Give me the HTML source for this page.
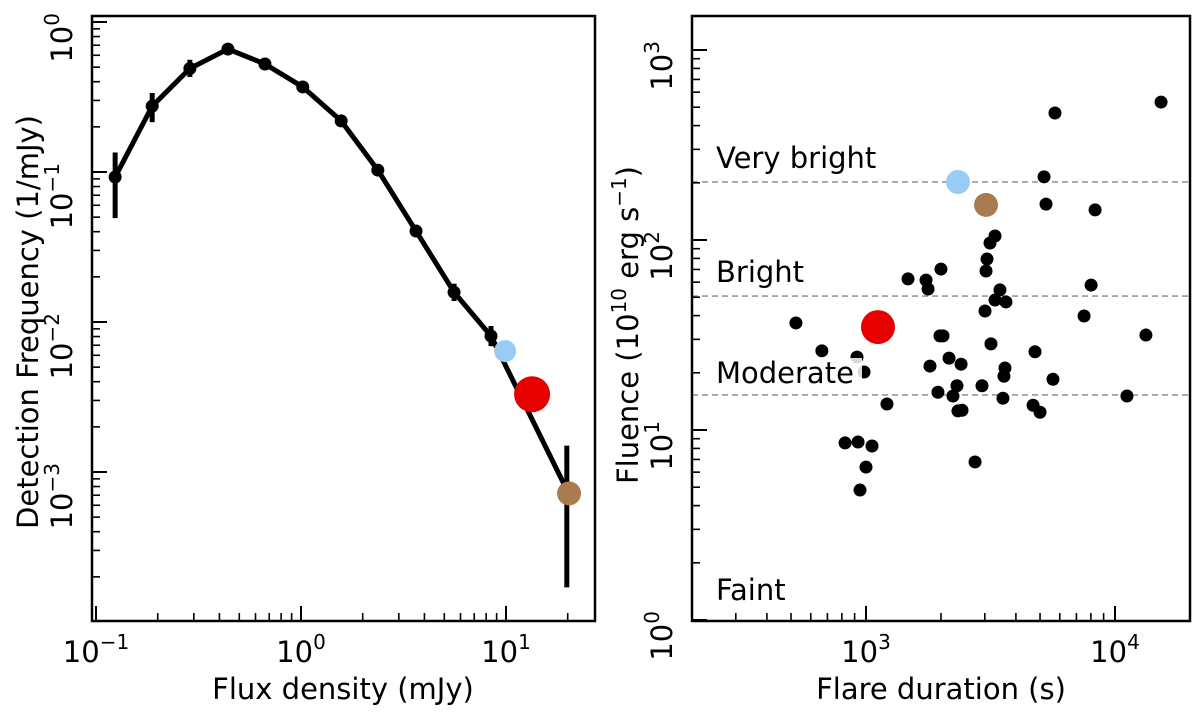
<!DOCTYPE html>
<html><head><meta charset="utf-8"><style>
body{margin:0;background:#fff}
svg{display:block;font-family:"DejaVu Sans","Liberation Sans",sans-serif}
</style></head><body>
<svg id="c" width="1200" height="713" viewBox="0 0 1200 713"></svg>
<script>
// Left panel data
const fluxBins=[0.124,0.188,0.287,0.44,0.667,1.02,1.57,2.37,3.64,5.58,8.45,19.8];
const detFreq=[0.0926,0.275,0.49,0.66,0.525,0.369,0.219,0.103,0.0404,0.0158,0.00807,0.00076];
const errLo=[0.0493,0.215,0.43,0.63,0.50,0.355,0.21,0.099,0.037,0.0138,0.0069,0.00017];
const errHi=[0.135,0.336,0.56,0.69,0.55,0.383,0.228,0.107,0.044,0.018,0.0094,0.0015];
const leftHighlightX=[9.9,13.4,20.3];
const leftHighlightY=[0.0064,0.0033,0.00072];
const highlightColors=["#99ccf5","#e60000","#a97c50"];
const highlightR=[11,18,12];
// Right panel data
const durations=[523,665,920,982,929,824,1057,1000,946,1214,1475,1742,1775,2000,1807,1945,2155,1982,2319,2409,2235,2340,2430,2038,2741,3006,3062,3034,3297,3148,3176,2923,3548,3451,3615,3581,5284,5188,3648,5741,4773,4688,5000,5636,7513,8017,8318,11170,13310,15310,3297];
const fluences=[36.6,26.1,24.2,20.2,8.65,8.55,8.24,6.38,4.83,13.7,62.4,61.5,55.2,70.3,21.7,15.8,23.9,31.3,17.1,22.2,15.1,12.6,12.7,31.3,6.79,42.3,79.4,68.7,48.3,96.4,28.4,17.1,14.7,54.6,21.2,19.2,154.5,215,47.2,466,25.8,13.5,12.4,18.5,39.8,57.9,144,15.1,31.6,532,105];
const rightHighlightX=[2340,3034,1117];
const rightHighlightY=[202,153,34.8];
const rightHighlightColors=["#99ccf5","#a97c50","#e60000"];
const rightHighlightR=[12,12,17];
const thresholds=[202,50.7,15.3];
const thresholdLabels=["Very bright","Bright","Moderate","Faint"];

const svg=document.getElementById('c');
const NS="http://www.w3.org/2000/svg";
const FS=29, SFS=20;
function el(tag,attrs,parent){const e=document.createElementNS(NS,tag);for(const k in attrs)e.setAttribute(k,attrs[k]);(parent||svg).appendChild(e);return e;}
function logScale(d0,d1,r0,r1){return v=>r0+(Math.log10(v)-d0)/(d1-d0)*(r1-r0);}

const L={x0:92,x1:595,y0:16,y1:621};
const lx=logScale(-1,0,96,301), ly=logScale(0,-1,22,172);
const R={x0:692,x1:1190,y0:16,y1:621};
const rx=logScale(3,4,866,1115), ry=logScale(3,2,50,240);

function sup(parent,x,y,base,exp,rot){
  let t;
  if(rot){
    const yy=y-9;
    t=el('text',{x:x,y:yy,'font-size':FS,'text-anchor':'end',fill:'#000',transform:`rotate(-90 ${x} ${yy})`},parent);
  } else {
    t=el('text',{x:x,y:y,'font-size':FS,'text-anchor':'middle',fill:'#000'},parent);
  }
  const a=el('tspan',{},t);a.textContent=base;
  const b=el('tspan',{dy:-13,'font-size':SFS},t);b.textContent=exp;
  return t;
}
function ticks(ax,xs,ys,xdec,ydec,g){
  for(let d=xdec[0];d<=xdec[1];d++){for(let m=1;m<10;m++){const v=m*Math.pow(10,d);const p=xs(v);if(p<ax.x0+1||p>ax.x1-1)continue;
    const len=m===1?15:8;const t=el('line',{x1:p,x2:p,y1:ax.y1,y2:ax.y1-len,stroke:'#000','stroke-width':m===1?2:1.6},g);
    }}
  for(let d=ydec[0];d<=ydec[1];d++){for(let m=1;m<10;m++){const v=m*Math.pow(10,d);const p=ys(v);if(p<ax.y0+1||p>ax.y1-1)continue;
    const len=m===1?15:8;const t=el('line',{x1:ax.x0,x2:ax.x0+len,y1:p,y2:p,stroke:'#000','stroke-width':m===1?2:1.6},g);
    }}
}

// ---- Left panel ----
const gl=el('g',{});

let pts=fluxBins.map((v,i)=>[lx(v),ly(detFreq[i])]);
const line=el('polyline',{points:pts.map(p=>p.join(',')).join(' '),fill:'none',stroke:'#000','stroke-width':5,'stroke-linejoin':'round'},gl);

fluxBins.forEach((v,i)=>{
  const e=el('line',{x1:lx(v),x2:lx(v),y1:ly(errLo[i]),y2:ly(errHi[i]),stroke:'#000','stroke-width':5},gl);
  
  const c=el('circle',{cx:lx(v),cy:ly(detFreq[i]),r:6.5,fill:'#000'},gl);
  
});
leftHighlightX.forEach((v,i)=>{
  const c=el('circle',{cx:lx(v),cy:ly(leftHighlightY[i]),r:highlightR[i],fill:highlightColors[i]},gl);
  
});
ticks(L,lx,ly,[-1,1],[-4,0],gl);
const fl=el('rect',{x:L.x0,y:L.y0,width:L.x1-L.x0,height:L.y1-L.y0,fill:'none',stroke:'#000','stroke-width':2.5},gl);

[[-1,'−1'],[0,'0'],[1,'1']].forEach(([d,s])=>{const t=sup(gl,lx(Math.pow(10,d)),662,'10',s);});
[[0,'0'],[-1,'−1'],[-2,'−2'],[-3,'−3']].forEach(([d,s])=>{const t=sup(gl,72,ly(Math.pow(10,d)),'10',s,true);});
let t=el('text',{x:343,y:699,'font-size':FS,'text-anchor':'middle'},gl);t.textContent='Flux density (mJy)';

t=el('text',{x:38,y:322,'font-size':FS,'text-anchor':'middle',transform:'rotate(-90 38 322)'},gl);t.textContent='Detection Frequency (1/mJy)';


// ---- Right panel ----
const gr=el('g',{});

thresholds.forEach(v=>{const l=el('line',{x1:R.x0,x2:R.x1,y1:ry(v),y2:ry(v),stroke:'#999','stroke-width':1.6,'stroke-dasharray':'6,4'},gr);
  });
durations.forEach((v,i)=>{const c=el('circle',{cx:rx(v),cy:ry(fluences[i]),r:6.5,fill:'#000'},gr);
  });
const labY=[168,282,383,600];
thresholdLabels.forEach((s,i)=>{
  if(s==='Moderate'){const b=el('rect',{x:716,y:358,width:146,height:30,fill:'#fff','fill-opacity':0.85},gr);}
  const tt=el('text',{x:716,y:labY[i],'font-size':FS},gr);tt.textContent=s;
  });
rightHighlightX.forEach((v,i)=>{const c=el('circle',{cx:rx(v),cy:ry(rightHighlightY[i]),r:rightHighlightR[i],fill:rightHighlightColors[i]},gr);
  });
ticks(R,rx,ry,[2,4],[0,3],gr);
const fr=el('rect',{x:R.x0,y:R.y0,width:R.x1-R.x0,height:R.y1-R.y0,fill:'none',stroke:'#000','stroke-width':2.5},gr);

[[3,'3'],[4,'4']].forEach(([d,s])=>{const tt=sup(gr,rx(Math.pow(10,d)),662,'10',s);});
[[0,'0'],[1,'1'],[2,'2'],[3,'3']].forEach(([d,s])=>{const tt=sup(gr,672,ry(Math.pow(10,d)),'10',s,true);});
t=el('text',{x:941,y:699,'font-size':FS,'text-anchor':'middle'},gr);t.textContent='Flare duration (s)';

t=el('text',{x:638,y:325,'font-size':FS,'text-anchor':'middle',transform:'rotate(-90 638 325)'},gr);

let s1=el('tspan',{},t);s1.textContent='Fluence (10';
let s2=el('tspan',{dy:-12,'font-size':SFS},t);s2.textContent='10';
let s3=el('tspan',{dy:12},t);s3.textContent=' erg s';
let s4=el('tspan',{dy:-12,'font-size':SFS},t);s4.textContent='−1';
let s5=el('tspan',{dy:12},t);s5.textContent=')';
</script>
</body></html>
